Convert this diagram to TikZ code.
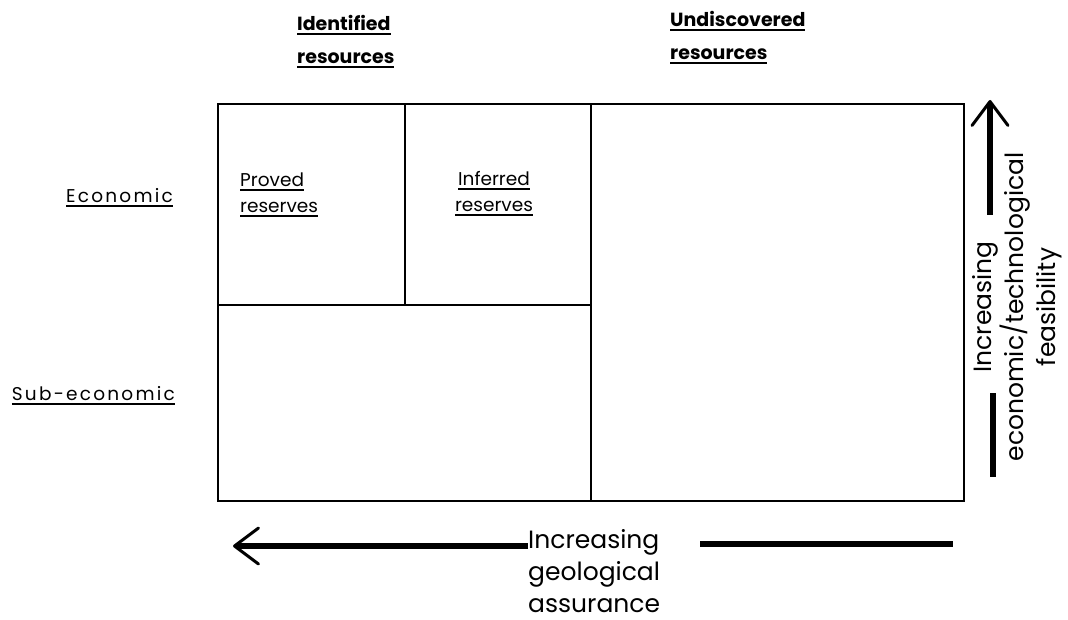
\documentclass[tikz,border=0pt]{standalone}
\usepackage{fontspec}
\setmainfont{Poppins}
\usetikzlibrary{arrows.meta}

% Underline with a rule of fixed thickness.
\newcommand{\ulined}[1]{\leavevmode\setbox0=\hbox{#1}\rlap{\vrule width\wd0 height -2.5pt depth 4.5pt}\box0}

\tikzset{
    heading/.style={inner sep=0pt,align=left,font=\fontsize{19}{33}\selectfont\bfseries},
    rowlabel/.style={inner sep=0pt,font=\fontsize{18.5}{20}\selectfont\addfontfeatures{LetterSpace=12}},
    celllabel/.style={inner sep=0pt,font=\fontsize{18.5}{26}\selectfont},
    axislabel/.style={inner sep=0pt,font=\fontsize{25}{32}\selectfont},
    axisline/.style={line width=6pt},
    axisarrow/.style={line width=6pt,-{Straight Barb[round,length=24pt,width=36pt,line width=3pt]}}
}

\begin{document}
\begin{tikzpicture}[x=1pt,y=-1pt]

        % -----------
        % Parameters.
        % -----------

        % Chart box.
        \pgfmathsetmacro{\xLeft}{218}      % Left edge of chart.
        \pgfmathsetmacro{\xRight}{964}     % Right edge of chart.
        \pgfmathsetmacro{\yTop}{104}       % Top edge of chart.
        \pgfmathsetmacro{\yBottom}{501}    % Bottom edge of chart.
        \pgfmathsetmacro{\xSplit}{591}     % Identified / undiscovered split.
        \pgfmathsetmacro{\xInner}{405}     % Proved / inferred split.
        \pgfmathsetmacro{\yRow}{305}       % Economic / sub-economic split.

        % Axis arrows.
        \pgfmathsetmacro{\xVert}{990}      % x-position of vertical arrow.
        \pgfmathsetmacro{\yHoriz}{546}     % y-position of horizontal arrow.

        \useasboundingbox(0,0)rectangle(1068,620);

        % --------
        % Drawing.
        % --------

        % Chart box and cells.
        \draw[line width=1.5pt](\xLeft,\yTop)rectangle(\xRight,\yBottom);
        \draw[line width=1.5pt](\xSplit,\yTop)--(\xSplit,\yBottom);
        \draw[line width=1.5pt](\xInner,\yTop)--(\xInner,\yRow);
        \draw[line width=1.5pt](\xLeft,\yRow)--(\xSplit,\yRow);

        % Column headings (anchored on the last line).
        \node[heading,anchor=base west](identified)at(297,64){\ulined{Identified}\\\ulined{resources}};
        \node[heading,anchor=base west](undiscovered)at(670,60){\ulined{Undiscovered}\\\ulined{resources}};

        % Row labels.
        \node[rowlabel,anchor=base east](economic)at(173,203){\ulined{Economic}};
        \node[rowlabel,anchor=base east](subeconomic)at(175,400){\ulined{Sub-economic}};

        % Cell labels.
        \node[celllabel,anchor=base west,align=left](proved)at(240,213){\ulined{Proved}\\\ulined{reserves}};
        \node[celllabel,anchor=base,align=center](inferred)at(494,212){\ulined{Inferred}\\\ulined{reserves}};

        % Vertical axis.
        \coordinate(feasTail)at(\xVert,215);
        \coordinate(feasTip)at(\xVert,100);
        \coordinate(feasLowTop)at(993,393);
        \coordinate(feasLowEnd)at(993,477);
        \draw[axisarrow](feasTail)--(feasTip);
        \draw[axisline](feasLowTop)--(feasLowEnd);
        \node[axislabel,rotate=90,align=center](feasibility)at(1017,307){Increasing\\economic/technological\\feasibility};

        % Horizontal axis.
        \node[axislabel,anchor=base west,align=left](assurance)at(528,612){Increasing\\geological\\assurance};
        \coordinate(assurTip)at(233,\yHoriz);
        \coordinate(assurRightA)at(700,544);
        \coordinate(assurRightB)at(953,544);
        \draw[axisarrow](assurance.base west|-assurTip)--(assurTip);
        \draw[axisline](assurRightA)--(assurRightB);

\end{tikzpicture}
\end{document}
